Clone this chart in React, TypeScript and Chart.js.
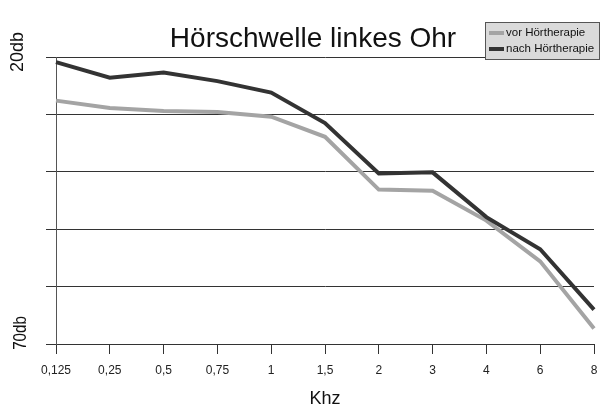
import React, { useEffect, useRef } from "react";
import { Chart, registerables } from "chart.js";

Chart.register(...registerables);

const categories = ["0,125", "0,25", "0,5", "0,75", "1", "1,5", "2", "3", "4", "6", "8"];
const vorValues = [27.6, 28.9, 29.4, 29.6, 30.4, 33.9, 43.1, 43.3, 48.5, 55.6, 67.3];
const nachValues = [20.9, 23.6, 22.7, 24.2, 26.2, 31.5, 40.3, 40.1, 47.9, 53.5, 64.0];
const yTickLabels: Record<number, string> = { 20: "20db", 70: "70db" };
const titleText = "Hörschwelle linkes Ohr";
const xTitle = "Khz";

const FONT = "'Liberation Sans', Arial, sans-serif";

const overlayPlugin = {
  id: "overlay",
  afterDatasetsDraw(chart: any) {
    const ctx = chart.ctx as CanvasRenderingContext2D;
    const y = chart.scales.y;
    ctx.save();
    // title
    ctx.fillStyle = "#111";
    ctx.font = `28px ${FONT}`;
    ctx.textAlign = "center";
    ctx.textBaseline = "alphabetic";
    ctx.fillText(titleText, 313, 47);

    // y labels (rotated)
    ctx.font = `18px ${FONT}`;
    ctx.textBaseline = "middle";
    const pos: Record<number, [number, number, number]> = { 20: [18, -5, 1], 70: [21, -11, 0.84] };
    Object.keys(yTickLabels).forEach((k) => {
      const v = Number(k);
      const [x, dy, sx] = pos[v];
      const py = y.getPixelForValue(v) + dy;
      ctx.save();
      ctx.translate(x, py);
      ctx.rotate(-Math.PI / 2);
      ctx.scale(sx, 1);
      ctx.fillText(yTickLabels[v], 0, 0);
      ctx.restore();
    });

    // legend box
    const bx = 485, by = 22, bw = 115, bh = 38;
    ctx.fillStyle = "#dadada";
    ctx.fillRect(bx, by, bw, bh);
    ctx.strokeStyle = "#555";
    ctx.lineWidth = 1;
    ctx.strokeRect(bx + 0.5, by + 0.5, bw - 1, bh - 1);
    const entries = [chart.data.datasets[0], chart.data.datasets[1]];
    const rows = [33, 49];
    ctx.font = `11.5px ${FONT}`;
    ctx.textAlign = "left";
    ctx.textBaseline = "middle";
    entries.forEach((ds: any, i: number) => {
      ctx.strokeStyle = ds.borderColor;
      ctx.lineWidth = 4;
      ctx.beginPath();
      ctx.moveTo(489, rows[i]);
      ctx.lineTo(504, rows[i]);
      ctx.stroke();
      ctx.fillStyle = "#111";
      ctx.fillText(ds.label, 506, rows[i]);
    });
    ctx.restore();
  },
};

export default function App() {
  const ref = useRef<HTMLCanvasElement | null>(null);
  useEffect(() => {
    document.body.style.margin = "0";
    const c = ref.current;
    if (!c) return;
    const chart = new Chart(c, {
      type: "line",
      data: {
        labels: categories,
        datasets: [
          {
            label: "vor Hörtherapie",
            data: vorValues,
            borderColor: "#a4a4a4",
            backgroundColor: "#a4a4a4",
            borderWidth: 4,
            pointRadius: 0,
            tension: 0,
            order: 2,
          },
          {
            label: "nach Hörtherapie",
            data: nachValues,
            borderColor: "#333333",
            backgroundColor: "#333333",
            borderWidth: 4,
            pointRadius: 0,
            tension: 0,
            order: 1,
          },
        ],
      },
      options: {
        responsive: false,
        animation: false,
        layout: { autoPadding: false, padding: { top: 57, left: 0, right: 7, bottom: 0 } },
        plugins: { legend: { display: false }, tooltip: { enabled: false }, title: { display: false } },
        scales: {
          x: {
            type: "category",
            offset: false,
            grid: { drawOnChartArea: false, drawTicks: true, tickLength: 10, color: "#333" },
            border: { color: "#333" },
            ticks: { color: "#222", font: { family: FONT, size: 12 }, padding: 9, maxRotation: 0, autoSkip: false },
            title: { display: true, text: xTitle, color: "#111", font: { family: FONT, size: 18 }, padding: { top: 0, bottom: 0 } },
            afterFit: (s: any) => { s.height = 66; s.paddingRight = 0; s.paddingLeft = 0; },
          },
          y: {
            min: 20,
            max: 70,
            reverse: true,
            grid: { color: "#333", tickLength: 10, drawTicks: true },
            border: { color: "#555" },
            ticks: { stepSize: 10, display: false },
            afterFit: (s: any) => { s.width = 56; },
          },
        },
      },
      plugins: [overlayPlugin],
    } as any);
    return () => chart.destroy();
  }, []);
  return (
    <div style={{ width: 601, height: 410 }}>
      <canvas ref={ref} width={601} height={410} style={{ display: "block" }} />
    </div>
  );
}
